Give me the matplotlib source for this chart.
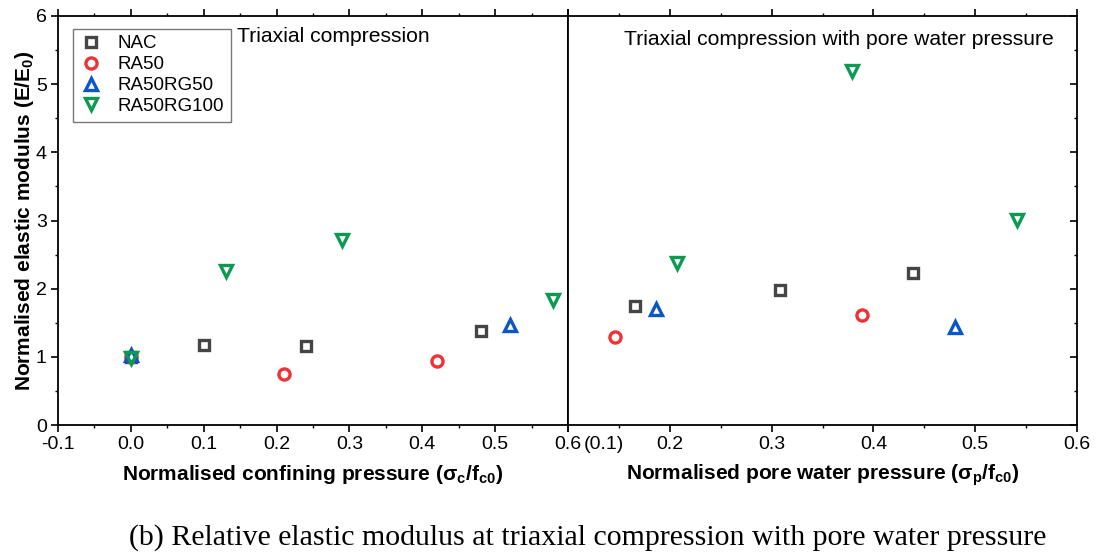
import matplotlib.pyplot as plt
import matplotlib.transforms as mtransforms
from matplotlib.ticker import MultipleLocator

plt.rcParams['font.family'] = ['Liberation Sans', 'DejaVu Sans']
plt.rcParams['mathtext.fontset'] = 'custom'
plt.rcParams['mathtext.rm'] = 'Liberation Sans'
plt.rcParams['mathtext.bf'] = 'Liberation Sans:bold'

series = ['NAC', 'RA50', 'RA50RG50', 'RA50RG100']

# triaxial compression (x = confining pressure / fc0)
tc_x = {
    'NAC': [0.0, 0.10, 0.24, 0.48],
    'RA50': [0.0, 0.21, 0.42],
    'RA50RG50': [0.0, 0.52],
    'RA50RG100': [0.0, 0.13, 0.29, 0.58],
}
tc_y = {
    'NAC': [1.0, 1.17, 1.16, 1.38],
    'RA50': [1.0, 0.75, 0.94],
    'RA50RG50': [1.02, 1.47],
    'RA50RG100': [0.98, 2.26, 2.71, 1.83],
}

# triaxial compression with pore water pressure (x = pore pressure / fc0)
pw_x = {
    'NAC': [0.166, 0.308, 0.439],
    'RA50': [0.146, 0.389],
    'RA50RG50': [0.186, 0.480],
    'RA50RG100': [0.207, 0.379, 0.541],
}
pw_y = {
    'NAC': [1.74, 1.98, 2.23],
    'RA50': [1.29, 1.61],
    'RA50RG50': [1.70, 1.44],
    'RA50RG100': [2.38, 5.19, 3.01],
}

colors = {'NAC': '#454545', 'RA50': '#ee3236', 'RA50RG50': '#0a55c8', 'RA50RG100': '#0a9a52'}
markers = {'NAC': 's', 'RA50': 'o', 'RA50RG50': '^', 'RA50RG100': 'v'}
sizes = {'NAC': 7, 'RA50': 8, 'RA50RG50': 9, 'RA50RG100': 9}

left_ticks = [-0.1, 0.0, 0.1, 0.2, 0.3, 0.4, 0.5, 0.6]
right_ticks = [0.1, 0.2, 0.3, 0.4, 0.5, 0.6]
right_labels = ['(0.1)', '0.2', '0.3', '0.4', '0.5', '0.6']

fig = plt.figure(figsize=(10.98, 5.55), dpi=100)
ax1 = fig.add_axes([0.0528, 0.2342, 0.4645, 0.737])
ax2 = fig.add_axes([0.5173, 0.2342, 0.4636, 0.737])

for s in series:
    ax1.plot(tc_x[s], tc_y[s], linestyle='none', marker=markers[s], markersize=sizes[s],
             markerfacecolor='none', markeredgecolor=colors[s], markeredgewidth=2.4, label=s)
    ax2.plot(pw_x[s], pw_y[s], linestyle='none', marker=markers[s], markersize=sizes[s],
             markerfacecolor='none', markeredgecolor=colors[s], markeredgewidth=2.4)

for ax in (ax1, ax2):
    ax.set_ylim(0, 6)
    ax.yaxis.set_major_locator(MultipleLocator(1))
    ax.yaxis.set_minor_locator(MultipleLocator(0.5))
    ax.xaxis.set_minor_locator(MultipleLocator(0.05))
    for sp in ax.spines.values():
        sp.set_linewidth(1.3)
    ax.tick_params(which='major', direction='out', length=5, width=1.2, labelsize=14, pad=3)
    ax.tick_params(which='minor', direction='out', length=2.5, width=1.0)

ax1.set_xlim(-0.1, 0.6)
ax1.set_xticks(left_ticks)
ax1.set_xticklabels([f'{t:.1f}' for t in left_ticks])
ax1.tick_params(axis='x', which='both', top=True)
ax1.tick_params(axis='y', which='both', right=False)

ax2.set_xlim(0.1, 0.6)
ax2.set_xticks(right_ticks)
ax2.set_xticklabels(right_labels)
ax2.tick_params(axis='x', which='both', top=True)
ax2.tick_params(axis='y', which='both', left=False, labelleft=False, right=True, direction='in')
first = ax2.get_xticklabels()[0]
first.set_horizontalalignment('left')
first.set_transform(first.get_transform() + mtransforms.ScaledTranslation(0.16, 0, fig.dpi_scale_trans))

ax1.set_xlabel(r'Normalised confining pressure ($\mathbf{\sigma_c/f_{c0}}$)', fontsize=15,
               fontweight='bold', labelpad=7)
ax2.set_xlabel(r'Normalised pore water pressure ($\mathbf{\sigma_p/f_{c0}}$)', fontsize=15,
               fontweight='bold', labelpad=7)
ax1.set_ylabel(r'Normalised elastic modulus (E/E$\mathbf{_0}$)', fontsize=15,
               fontweight='bold', labelpad=0)

ax1.text(0.351, 0.972, 'Triaxial compression', transform=ax1.transAxes, fontsize=15.2,
         ha='left', va='top')
ax2.text(0.954, 0.966, 'Triaxial compression with pore water pressure', transform=ax2.transAxes,
         fontsize=15.2, ha='right', va='top')

leg = ax1.legend(loc='upper left', bbox_to_anchor=(0.012, 0.992), fontsize=13.5, frameon=True,
                 fancybox=False, edgecolor='#555555', handletextpad=0.8, borderpad=0.35,
                 labelspacing=0.2, handlelength=1.2)
leg.get_frame().set_linewidth(1.0)

fig.text(0.535, 0.008, '(b) Relative elastic modulus at triaxial compression with pore water pressure',
         ha='center', va='bottom', fontsize=21.5, family=['Liberation Serif', 'DejaVu Serif'])

fig.savefig('out.png', dpi=100)
